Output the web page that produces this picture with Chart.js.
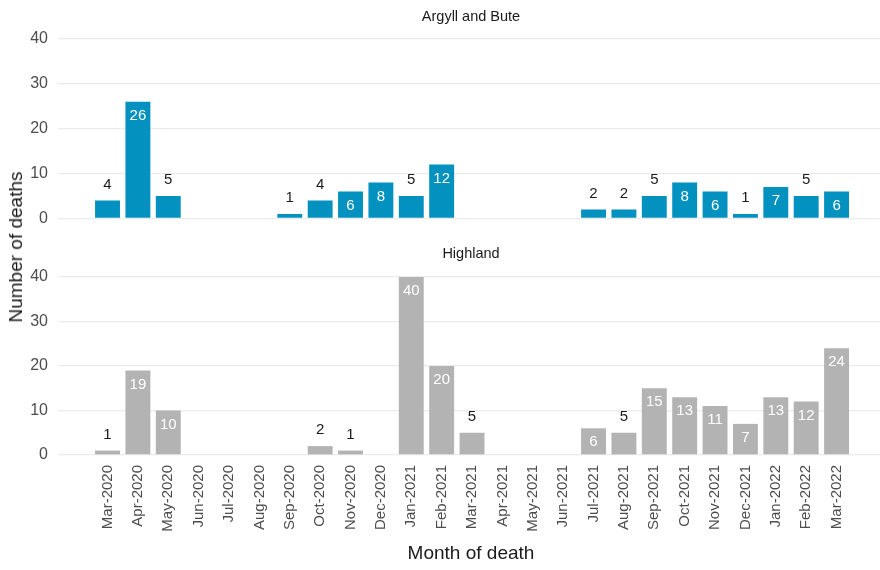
<!DOCTYPE html>
<html>
<head>
<meta charset="utf-8">
<script src="https://cdn.jsdelivr.net/npm/chart.js@4.4.1/dist/chart.umd.min.js"></script>
<style>
  body { margin: 0; background: #fff; font-family: 'Liberation Sans', Arial, sans-serif; }
  #wrap { position: relative; width: 880px; height: 570px; overflow: hidden; }
  canvas { position: absolute; left: 0; }
  .txt { position: absolute; color: #1a1a1a; white-space: nowrap; }
  .strip { font-size: 14.5px; transform: translate(-50%, -50%); }
  .axt { font-size: 19px; transform: translate(-50%, -50%); }
</style>
</head>
<body>
<div id="wrap">
  <canvas id="topChart" width="880" height="238" style="top:0"></canvas>
  <canvas id="botChart" width="880" height="330" style="top:240px"></canvas>
  <div class="txt strip" style="left:471px; top:16px">Argyll and Bute</div>
  <div class="txt strip" style="left:471px; top:253px">Highland</div>
  <div class="txt axt" style="left:471px; top:553px">Month of death</div>
  <div class="txt axt" style="left:16px; top:247px; transform: translate(-50%, -50%) rotate(-90deg)">Number of deaths</div>
</div>
<script>
const months = ['Mar-2020','Apr-2020','May-2020','Jun-2020','Jul-2020','Aug-2020','Sep-2020','Oct-2020',
  'Nov-2020','Dec-2020','Jan-2021','Feb-2021','Mar-2021','Apr-2021','May-2021','Jun-2021','Jul-2021',
  'Aug-2021','Sep-2021','Oct-2021','Nov-2021','Dec-2021','Jan-2022','Feb-2022','Mar-2022'];

// null = no deaths recorded that month (no bar)
const argyllDeaths = [4, 26, 5, null, null, null, 1, 4, 6, 8, 5, 12, null, null, null, null, 2, 2, 5, 8, 6, 1, 7, 5, 6];
const highlandDeaths = [1, 19, 10, null, null, null, null, 2, 1, null, 40, 20, 5, null, null, null, 6, 5, 15, 13, 11, 7, 13, 12, 24];

const yTicks = [0, 10, 20, 30, 40];

Chart.defaults.font.family = "'Liberation Sans', Arial, sans-serif";
Chart.defaults.animation = false;

const xMin = -1.63, xMax = 25.43;

const barLabels = {
  id: 'barLabels',
  afterDatasetsDraw(chart) {
    const ctx = chart.ctx;
    const ds = chart.data.datasets[0];
    const meta = chart.getDatasetMeta(0);
    ctx.save();
    ctx.font = "15px 'Liberation Sans', Arial, sans-serif";
    ctx.textAlign = 'center';
    ctx.textBaseline = 'middle';
    meta.data.forEach((bar, i) => {
      const v = ds.data[i].y;
      if (v === null) return;
      if (v >= 6) {
        ctx.fillStyle = '#ffffff';
        ctx.fillText(v, bar.x, bar.y + 14);
      } else {
        ctx.fillStyle = '#1a1a1a';
        ctx.fillText(v, bar.x, bar.y - 16);
      }
    });
    ctx.restore();
  }
};

function makeChart(id, values, color, showX) {
  const data = months.map((m, i) => ({ x: i, y: values[i] }));
  return new Chart(document.getElementById(id), {
    type: 'bar',
    data: {
      datasets: [{
        data: data,
        backgroundColor: color,
        borderWidth: 0,
        categoryPercentage: 1,
        barPercentage: 0.82
      }]
    },
    options: {
      responsive: false,
      devicePixelRatio: 1,
      layout: { padding: showX ? { top: 37, bottom: 0, left: 0, right: 0 } : { top: 39, bottom: 4, left: 0, right: 0 } },
      plugins: { legend: { display: false }, tooltip: { enabled: false } },
      scales: {
        x: {
          type: 'linear',
          min: xMin, max: xMax,
          bounds: 'data',
          offset: false,
          display: showX,
          grid: { display: false, offset: false },
          border: { display: false },
          afterBuildTicks: (s) => { s.ticks = months.map((m, i) => ({ value: i })); },
          afterFit: (s) => { if (showX) s.height = 115; },
          ticks: {
            autoSkip: false,
            minRotation: 90, maxRotation: 90,
            padding: 2,
            color: '#4d4d4d',
            font: { size: 15 },
            callback: (v) => months[v]
          }
        },
        y: {
          min: 0, max: 40,
          afterBuildTicks: (s) => { s.ticks = yTicks.map(v => ({ value: v })); },
          afterFit: (s) => { s.width = 58; },
          grid: { color: '#ebebeb', lineWidth: 1.3, drawTicks: false },
          border: { display: false },
          ticks: { padding: 10, color: '#4d4d4d', font: { size: 16 } }
        }
      }
    },
    plugins: [barLabels]
  });
}

makeChart('topChart', argyllDeaths, '#0392bf', false);
makeChart('botChart', highlandDeaths, '#b3b3b3', true);
</script>
</body>
</html>
